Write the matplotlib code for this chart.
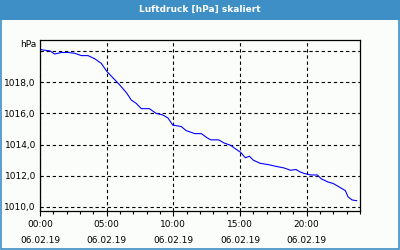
import matplotlib
matplotlib.use('Agg')
import matplotlib.pyplot as plt
from matplotlib.patches import Rectangle
from matplotlib.ticker import MultipleLocator

TITLE = 'Luftdruck [hPa] skaliert'
UNIT = 'hPa'

# hours since 06.02.19 00:00 and pressure in hPa
hours = [0, 0.3, 0.75, 1.1, 1.6, 2.1, 2.6, 3.1, 3.6, 4.1,
         4.6, 5.0, 5.5, 6.0, 6.5, 6.85, 7.2, 7.6, 8.2, 8.7,
         9.2, 9.6, 9.95, 10.6, 10.95, 11.6, 12.1, 12.5, 12.8, 13.4,
         13.8, 14.3, 14.7, 15.05, 15.4, 15.7, 16.0, 16.5, 17.2, 17.7,
         18.3, 18.8, 19.2, 19.5, 19.8, 20.3, 20.8, 21.1, 21.6, 22.0,
         22.5, 22.9, 23.1, 23.4, 23.75]
pressure = [1020.1, 1020.05, 1020.0, 1019.8, 1019.9, 1019.9, 1019.85, 1019.7, 1019.7, 1019.5,
            1019.2, 1018.7, 1018.25, 1017.8, 1017.3, 1016.85, 1016.65, 1016.3, 1016.3, 1016.0,
            1015.9, 1015.7, 1015.25, 1015.15, 1014.9, 1014.7, 1014.7, 1014.45, 1014.3, 1014.3,
            1014.1, 1013.95, 1013.7, 1013.5, 1013.15, 1013.25, 1013.0, 1012.8, 1012.7, 1012.6,
            1012.5, 1012.35, 1012.4, 1012.25, 1012.15, 1012.05, 1012.05, 1011.8, 1011.6, 1011.5,
            1011.25, 1011.05, 1010.65, 1010.45, 1010.4]

x_ticks = [0, 5, 10, 15, 20]
x_times = ['00:00', '05:00', '10:00', '15:00', '20:00']
x_dates = ['06.02.19'] * 5
y_ticks = [1010, 1012, 1014, 1016, 1018, 1020]
y_labels = ['1010,0', '1012,0', '1014,0', '1016,0', '1018,0', '']

BAR = '#3d8fc6'
BG = '#fbfdfb'

fig = plt.figure(figsize=(4, 2.5), dpi=100, facecolor=BG)

# title bar and frame
fig.patches.append(Rectangle((0, 0.92), 1, 0.08, transform=fig.transFigure,
                             facecolor=BAR, edgecolor='none', zorder=0))
fig.patches.append(Rectangle((0.002, 0.004), 0.996, 0.992, transform=fig.transFigure,
                             facecolor='none', edgecolor=BAR, linewidth=1.2, zorder=5))
fig.text(0.5, 0.961, TITLE, ha='center', va='center', color='white',
         fontsize=6.5, fontweight='bold')

ax = fig.add_axes([0.1, 0.156, 0.8, 0.684])
ax.set_facecolor(BG)
ax.plot(hours, pressure, color='#0000ff', linewidth=0.8)

ax.set_xlim(0, 24)
ax.set_ylim(1009.74, 1020.7)

ax.set_xticks(x_ticks)
ax.set_xticklabels([t + '\n' + d for t, d in zip(x_times, x_dates)],
                   fontsize=6.5, linespacing=1.95)
ax.xaxis.set_minor_locator(MultipleLocator(1))
ax.tick_params(axis='x', which='major', length=3.5, width=0.8, pad=3)
ax.tick_params(axis='x', which='minor', length=2.5, width=0.8)

ax.set_yticks(y_ticks)
ax.set_yticklabels(y_labels, fontsize=6.5)
ax.tick_params(axis='y', length=0, pad=3)

ax.grid(True, which='major', color='black', linestyle=(0, (3, 2.5)), linewidth=0.8)
for s in ax.spines.values():
    s.set_linewidth(0.9)

ax.text(-0.012, 1020.4, UNIT, transform=ax.get_yaxis_transform(),
        ha='right', va='center', fontsize=6.5)

fig.savefig('out.png', dpi=100, facecolor=BG)
